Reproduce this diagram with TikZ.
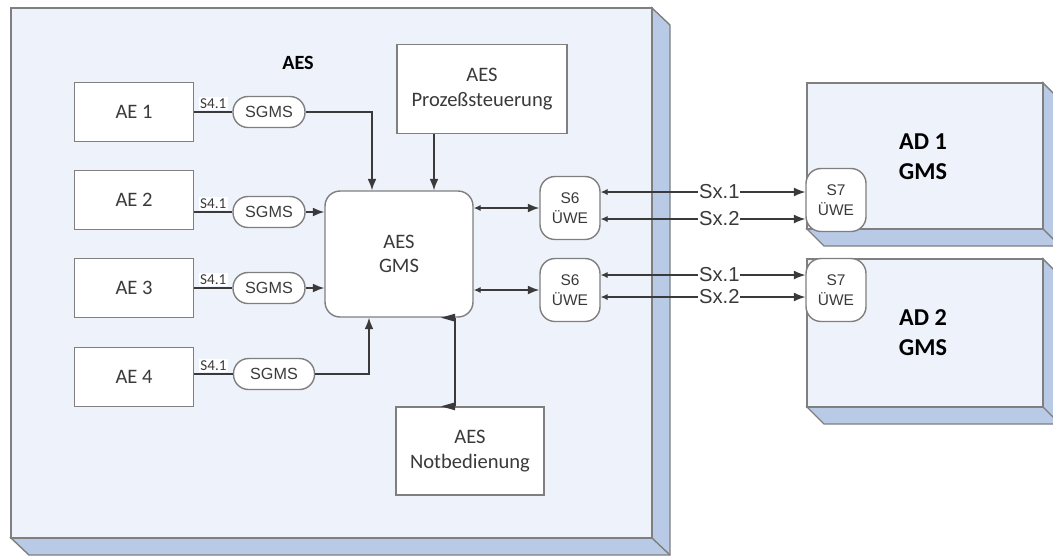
\documentclass[tikz,border=0pt]{standalone}
\usepackage{fontspec}
\setmainfont{Carlito}
\newfontfamily\arialfont{Liberation Sans}
\usepackage{xcolor}
\usepackage{tikz}
\usetikzlibrary{arrows.meta,positioning,calc}

\definecolor{facebl}{HTML}{EEF2FA}
\definecolor{bandbl}{HTML}{B9CAE6}
\definecolor{edgegr}{HTML}{7F7F7F}
\definecolor{linegr}{HTML}{3A3A3A}

\begin{document}
\begin{tikzpicture}[x=0.02cm,y=-0.02cm,font=\fontsize{11.7}{14}\selectfont,
        box/.style={draw=edgegr,line width=0.8pt,fill=white,align=center,text=linegr,inner sep=0pt},
        rbox/.style={box,rounded corners=0.3cm},
        pill/.style={box,rounded corners=0.3cm,minimum width=1.44cm,minimum height=0.62cm,
                font=\arialfont\fontsize{9.2}{11}\selectfont},
        uwe/.style={rbox,minimum width=1.2cm,minimum height=1.26cm,
                font=\arialfont\fontsize{8.8}{11.3}\selectfont},
        conn/.style={draw=linegr,line width=0.8pt},
        sx/.style={draw=linegr,line width=0.6pt},
        lab/.style={fill=white,inner sep=0.8pt,text=linegr,font=\fontsize{8.6}{9}\selectfont},
        sxlab/.style={fill=white,inner sep=0.5pt,text=linegr,font=\arialfont\fontsize{11.5}{12}\selectfont},
        big/.tip={Latex[length=6.5pt,width=5pt]},
        small/.tip={Latex[length=4pt,width=3.6pt]}]
    \useasboundingbox (0,0) rectangle (1053,556);
    \clip (0,0) rectangle (1053,556);
    % AES housing
    \filldraw[fill=bandbl,draw=edgegr,line width=0.8pt]
    (11,538) -- (29,555) -- (670,555) -- (670,25) -- (652,8) -- (652,538) -- cycle;
    \draw[edgegr,line width=0.8pt] (652,538) -- (670,555);
    \filldraw[fill=facebl,draw=edgegr,line width=1pt] (11,8) rectangle (652,538);
    % AD housings
    \foreach \yt/\yb in {83/229,259/407} {
            \filldraw[fill=bandbl,draw=edgegr,line width=0.8pt]
            (807,\yb) -- (824,\yb+17) -- (1060,\yb+17) -- (1060,\yt+17) -- (1043,\yt) -- (1043,\yb) -- cycle;
            \draw[edgegr,line width=0.8pt] (1043,\yb) -- (1060,\yb+17);
            \filldraw[fill=facebl,draw=edgegr,line width=1pt] (807,\yt) rectangle (1043,\yb);
        }
    \node[font=\bfseries\fontsize{11.5}{14}\selectfont,text=black] (aes) at (298,63) {AES};
    \node[align=center,font=\bfseries\fontsize{13.8}{17}\selectfont,text=black] (ad1) at (923,157) {AD 1\\GMS};
    \node[align=center,font=\bfseries\fontsize{13.8}{17}\selectfont,text=black] (ad2) at (923,333) {AD 2\\GMS};

    % blocks
    \foreach \i/\y in {1/112,2/200,3/288,4/377} {
            \node[box,minimum width=2.38cm,minimum height=1.18cm] (ae\i) at (134,\y) {AE \i};
        }
    \foreach \i/\y in {1/112,2/212,3/288} {
            \node[pill] (sgms\i) at (269,\y) {SGMS};
        }
    \node[pill,minimum width=1.62cm] (sgms4) at (274,374) {SGMS};
    \node[rbox,minimum width=2.96cm,minimum height=2.52cm] (gms) at (399,254) {AES\\GMS};
    \node[box,minimum width=3.4cm,minimum height=1.78cm] (proz) at (482,89) {AES\\Prozeßsteuerung};
    \node[box,minimum width=2.96cm,minimum height=1.76cm] (notb) at (470,451) {AES\\Notbedienung};
    \node[uwe] (s6a) at (570,208) {S6\\ÜWE};
    \node[uwe] (s6b) at (570,290) {S6\\ÜWE};
    \node[uwe] (s7a) at (836,200) {S7\\ÜWE};
    \node[uwe] (s7b) at (836,290) {S7\\ÜWE};

    % S4.1 links
    \foreach \i in {1,...,4} {
            \draw[conn] (ae\i.east |- sgms\i) -- node[lab,above=1pt] {S4.1} (sgms\i);
        }
    \draw[conn,-{big}] (sgms1) -| (gms.north -| 372,0);
    \draw[conn,-{big}] (sgms2) -- (sgms2 -| gms.west);
    \draw[conn,-{big}] (sgms3) -- (sgms3 -| gms.west);
    \draw[conn,-{big}] (sgms4) -| (gms.south -| 369,0);
    \draw[conn,-{big}] (proz.south -| 434,0) -- (gms.north -| 434,0);
    \draw[conn] (notb.north -| 455,0) -- (gms.south -| 455,0);
    \fill[linegr] (notb.north -| 441,0) -- ++(14,-4) -- ++(0,8) -- cycle;
    \fill[linegr] (gms.south -| 441,0) -- ++(14,-4) -- ++(0,8) -- cycle;

    % GMS to S6
    \draw[conn,{small}-{big}] (gms.east |- s6a) -- (s6a);
    \draw[conn,{small}-{big}] (gms.east |- s6b) -- (s6b);

    % S6 to S7
    \foreach \a/\b/\y/\lab in {s6a/s7a/192/Sx.1,s6a/s7a/219/Sx.2,s6b/s7b/275/Sx.1,s6b/s7b/297/Sx.2} {
            \draw[sx,{small}-{big}] (\a.east |- 0,\y) -- node[sxlab,pos=0.58] {\lab} (\b.west |- 0,\y);
        }
\end{tikzpicture}
\end{document}
